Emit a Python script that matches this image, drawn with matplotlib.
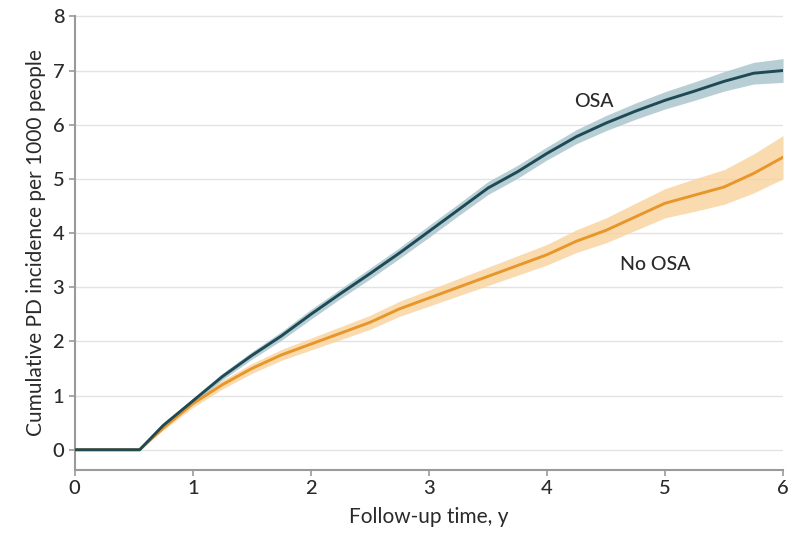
"""
Cumulative PD incidence by OSA status (Kaplan-Meier style curves with CI bands).
"""

import numpy as np
import matplotlib
matplotlib.use("Agg")
import matplotlib.pyplot as plt

plt.rcParams["font.family"] = ["Lato", "DejaVu Sans"]
plt.rcParams["font.weight"] = "medium"

# ── Data ─────────────────────────────────────────────────────────────────────
years = [0, 0.55, 0.75, 1.0, 1.25, 1.5, 1.75, 2.0, 2.25, 2.5, 2.75, 3.0,
         3.25, 3.5, 3.75, 4.0, 4.25, 4.5, 4.75, 5.0, 5.25, 5.5, 5.75, 6.0]
osa = [0, 0, 0.45, 0.9, 1.35, 1.74, 2.1, 2.5, 2.88, 3.25, 3.63, 4.03,
       4.43, 4.83, 5.13, 5.47, 5.78, 6.03, 6.25, 6.45, 6.62, 6.8, 6.95, 7.0]
osa_ci = [0, 0, 0.03, 0.05, 0.06, 0.07, 0.08, 0.09, 0.09, 0.1, 0.1, 0.11,
          0.11, 0.12, 0.12, 0.12, 0.13, 0.14, 0.15, 0.16, 0.17, 0.18, 0.2, 0.22]
no_osa = [0, 0, 0.4, 0.85, 1.2, 1.5, 1.75, 1.95, 2.15, 2.35, 2.6, 2.8,
          3.0, 3.2, 3.4, 3.6, 3.85, 4.05, 4.3, 4.55, 4.7, 4.85, 5.1, 5.4]
no_osa_ci = [0, 0, 0.04, 0.07, 0.08, 0.09, 0.1, 0.11, 0.12, 0.13, 0.14, 0.15,
             0.16, 0.17, 0.18, 0.19, 0.21, 0.23, 0.25, 0.27, 0.3, 0.32, 0.36, 0.4]

x_ticks = [0, 1, 2, 3, 4, 5, 6]
y_ticks = [0, 1, 2, 3, 4, 5, 6, 7, 8]

OSA_LINE = "#1e4a56"
OSA_BAND = "#a7c2cb"
NO_LINE = "#e8962a"
NO_BAND = "#f9d29c"
AXIS_GRAY = "#9a9a9a"
TEXT = "#2a2a2a"

fig = plt.figure(figsize=(7.95, 5.45), dpi=100)
ax = fig.add_axes([0.094, 0.138, 0.891, 0.834])

t = np.array(years)
for vals, ci, line_c, band_c in [(no_osa, no_osa_ci, NO_LINE, NO_BAND),
                                 (osa, osa_ci, OSA_LINE, OSA_BAND)]:
    v = np.array(vals)
    c = np.array(ci)
    ax.fill_between(t, v - c, v + c, color=band_c, alpha=0.8, linewidth=0, zorder=2)
    ax.plot(t, v, color=line_c, linewidth=2.1, zorder=3)

ax.text(4.4, 6.42, "OSA", fontsize=14, color=TEXT, ha="center", va="center")
ax.text(4.92, 3.42, "No OSA", fontsize=14, color=TEXT, ha="center", va="center")

ax.set_xlim(0, 6)
ax.set_ylim(-0.37, 8.02)
ax.set_xticks(x_ticks)
ax.set_yticks(y_ticks)
ax.grid(axis="y", color="#e3e3e3", linewidth=1.0, zorder=0)
ax.set_axisbelow(True)

ax.spines[["top", "right"]].set_visible(False)
for s in ["left", "bottom"]:
    ax.spines[s].set_color(AXIS_GRAY)
    ax.spines[s].set_linewidth(1.5)
ax.spines["left"].set_bounds(-0.37, 8)
ax.tick_params(axis="both", colors=AXIS_GRAY, labelcolor=TEXT,
               labelsize=14.5, length=4, width=1.2, direction="out")

ax.set_xlabel("Follow-up time, y", fontsize=15, color=TEXT, labelpad=7)
ax.set_ylabel("Cumulative PD incidence per 1000 people", fontsize=15,
              color=TEXT, labelpad=5)

fig.savefig("out.png", dpi=100)
